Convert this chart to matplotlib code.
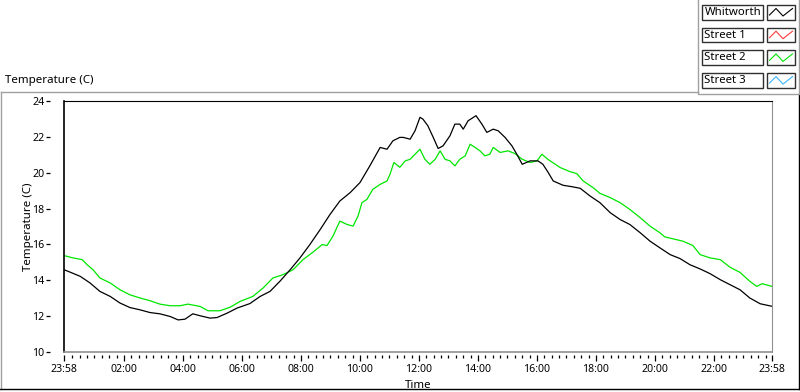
import numpy as np
import matplotlib
matplotlib.use('Agg')
import matplotlib.pyplot as plt
from matplotlib.patches import Rectangle

plt.rcParams['font.family'] = ['Noto Sans', 'DejaVu Sans']

# minutes after 23:58 and temperature in C
whit_min = [0, 12, 33, 53, 73, 94, 114, 134, 155, 175, 195, 216, 232, 246, 262,
            277, 297, 311, 332, 352, 378, 399, 419, 439, 460, 480, 500, 521, 541,
            561, 582, 602, 622, 643, 657, 669, 683, 690, 704, 714, 724, 730, 740,
            751, 761, 771, 785, 795, 805, 812, 822, 838, 850, 860, 873, 883, 897,
            911, 921, 932, 948, 964, 974, 984, 995, 1015, 1033, 1050, 1070, 1090,
            1111, 1131, 1151, 1172, 1192, 1212, 1233, 1253, 1273, 1294, 1314, 1335,
            1355, 1375, 1395, 1416, 1440]
whit_temp = [14.59, 14.46, 14.22, 13.85, 13.38, 13.10, 12.73, 12.48, 12.35, 12.20,
             12.13, 11.98, 11.79, 11.83, 12.13, 12.02, 11.89, 11.92, 12.17, 12.45,
             12.70, 13.10, 13.38, 13.94, 14.59, 15.25, 15.99, 16.83, 17.67, 18.42,
             18.89, 19.45, 20.38, 21.41, 21.31, 21.78, 21.97, 21.97, 21.87, 22.34,
             23.09, 22.99, 22.62, 21.97, 21.35, 21.50, 22.06, 22.71, 22.71, 22.43,
             22.90, 23.18, 22.71, 22.25, 22.43, 22.34, 21.97, 21.50, 21.03, 20.47,
             20.66, 20.66, 20.47, 20.05, 19.54, 19.30, 19.22, 19.13, 18.70, 18.33,
             17.77, 17.39, 17.11, 16.65, 16.18, 15.81, 15.43, 15.21, 14.87, 14.63,
             14.37, 14.03, 13.75, 13.47, 13.01, 12.69, 12.55]

st2_min = [0, 18, 37, 47, 59, 73, 94, 114, 134, 155, 175, 195, 216, 236, 252, 277,
           293, 317, 338, 358, 384, 405, 425, 445, 466, 486, 506, 525, 535, 547,
           561, 576, 588, 598, 606, 616, 628, 643, 657, 663, 671, 683, 694, 704,
           714, 724, 734, 744, 755, 765, 775, 785, 795, 805, 816, 826, 836, 846,
           856, 866, 873, 887, 903, 917, 932, 948, 962, 972, 984, 1009, 1029, 1043,
           1056, 1076, 1090, 1111, 1131, 1151, 1172, 1192, 1212, 1222, 1239, 1259,
           1279, 1294, 1314, 1335, 1355, 1375, 1395, 1409, 1420, 1440]
st2_temp = [15.38, 15.25, 15.15, 14.87, 14.59, 14.13, 13.85, 13.47, 13.19, 13.01,
            12.86, 12.67, 12.58, 12.58, 12.67, 12.54, 12.30, 12.30, 12.50, 12.82,
            13.10, 13.57, 14.13, 14.31, 14.59, 15.15, 15.56, 15.99, 15.94, 16.46,
            17.30, 17.11, 17.02, 17.58, 18.33, 18.51, 19.07, 19.35, 19.54, 19.91,
            20.57, 20.30, 20.66, 20.75, 21.03, 21.31, 20.75, 20.47, 20.75, 21.22,
            20.75, 20.66, 20.38, 20.75, 20.94, 21.59, 21.41, 21.22, 20.94, 21.03,
            21.41, 21.13, 21.22, 21.07, 20.75, 20.57, 20.66, 21.03, 20.75, 20.29,
            20.06, 19.95, 19.54, 19.17, 18.85, 18.61, 18.33, 17.95, 17.49, 17.02,
            16.65, 16.42, 16.31, 16.18, 15.94, 15.43, 15.25, 15.15, 14.72, 14.44,
            13.94, 13.66, 13.81, 13.66]

legend_names = ['Whitworth', 'Street 1', 'Street 2', 'Street 3']
legend_colors = ['#000000', '#ff3b3b', '#00e600', '#3cb4ff']

major_ticks = [0, 122, 242, 362, 482, 602, 722, 842, 962, 1082, 1202, 1322, 1440]
major_labels = ['23:58', '02:00', '04:00', '06:00', '08:00', '10:00', '12:00',
                '14:00', '16:00', '18:00', '20:00', '22:00', '23:58']

fig = plt.figure(figsize=(8, 3.92), dpi=100)

# frame and legend drawn in pixel coords
over = fig.add_axes([0, 0, 1, 1], zorder=-1)
over.set_xlim(0, 800)
over.set_ylim(392, 0)
over.axis('off')
over.plot([0.5, 698], [92, 92], color='#a0a0a0', lw=1)
over.plot([0.5, 0.5], [92, 389], color='#a0a0a0', lw=1)
over.plot([0, 799], [389, 389], color='#000000', lw=1)
over.plot([799, 799], [94, 389], color='#000000', lw=1)
over.plot([698, 698, 799, 799], [0, 94, 94, 0], color='#a0a0a0', lw=1)
over.text(5, 80, 'Temperature (C)', fontsize=8.3, va='center', ha='left')

for i, (name, col) in enumerate(zip(legend_names, legend_colors)):
    y0 = 5 + i * 22.7
    over.add_patch(Rectangle((702, y0), 61, 14.5, facecolor='white',
                             edgecolor='#303030', lw=1))
    over.text(704.5, y0 + 7.5, name, fontsize=8.2, va='center', ha='left')
    over.add_patch(Rectangle((767, y0), 28, 14.5, facecolor='white',
                             edgecolor='#303030', lw=1))
    over.plot([769.5, 776, 783, 792.5], [y0 + 10, y0 + 3.5, y0 + 11, y0 + 3.5],
              color=col, lw=0.8)

ax = fig.add_axes([64 / 800, 1 - 352 / 392, 708 / 800, 251 / 392])
ax.plot(st2_min, st2_temp, color='#00e600', lw=0.9)
ax.plot(whit_min, whit_temp, color='black', lw=0.9)

ax.set_xlim(0, 1440)
ax.set_ylim(10, 24)
ax.set_yticks(np.arange(10, 25, 2))
ax.set_xticks(major_ticks)
ax.set_xticklabels(major_labels)
minor = [m for m in range(17, 1440, 15) if m not in major_ticks]
ax.set_xticks(minor, minor=True)

# ticks sit a little away from the plot edge
ax.spines['left'].set_position(('outward', 10))
ax.spines['bottom'].set_position(('outward', 2.5))
ax.spines['left'].set_color('none')
ax.spines['bottom'].set_color('none')
ax.spines['top'].set_color('black')
ax.spines['right'].set_color('#909090')
ax.plot([0, 0], [0, 1], transform=ax.transAxes, color='black', lw=1.2,
        clip_on=False)
ax.plot([0, 1], [0, 0], transform=ax.transAxes, color='#909090', lw=1.2,
        clip_on=False)

ax.tick_params(axis='y', direction='out', length=3, width=0.9, pad=1,
               labelsize=7.6, colors='black')
ax.tick_params(axis='x', which='major', direction='out', length=4, width=0.9,
               pad=2, labelsize=7.6)
ax.tick_params(axis='x', which='minor', direction='out', length=2.3, width=0.9)

ax.set_xlabel('Time', fontsize=8.3, labelpad=3.5)
ax.set_ylabel('Temperature (C)', fontsize=8.3)
ax.yaxis.set_label_coords(-0.043, 0.5)

fig.savefig('out.png', dpi=100)
